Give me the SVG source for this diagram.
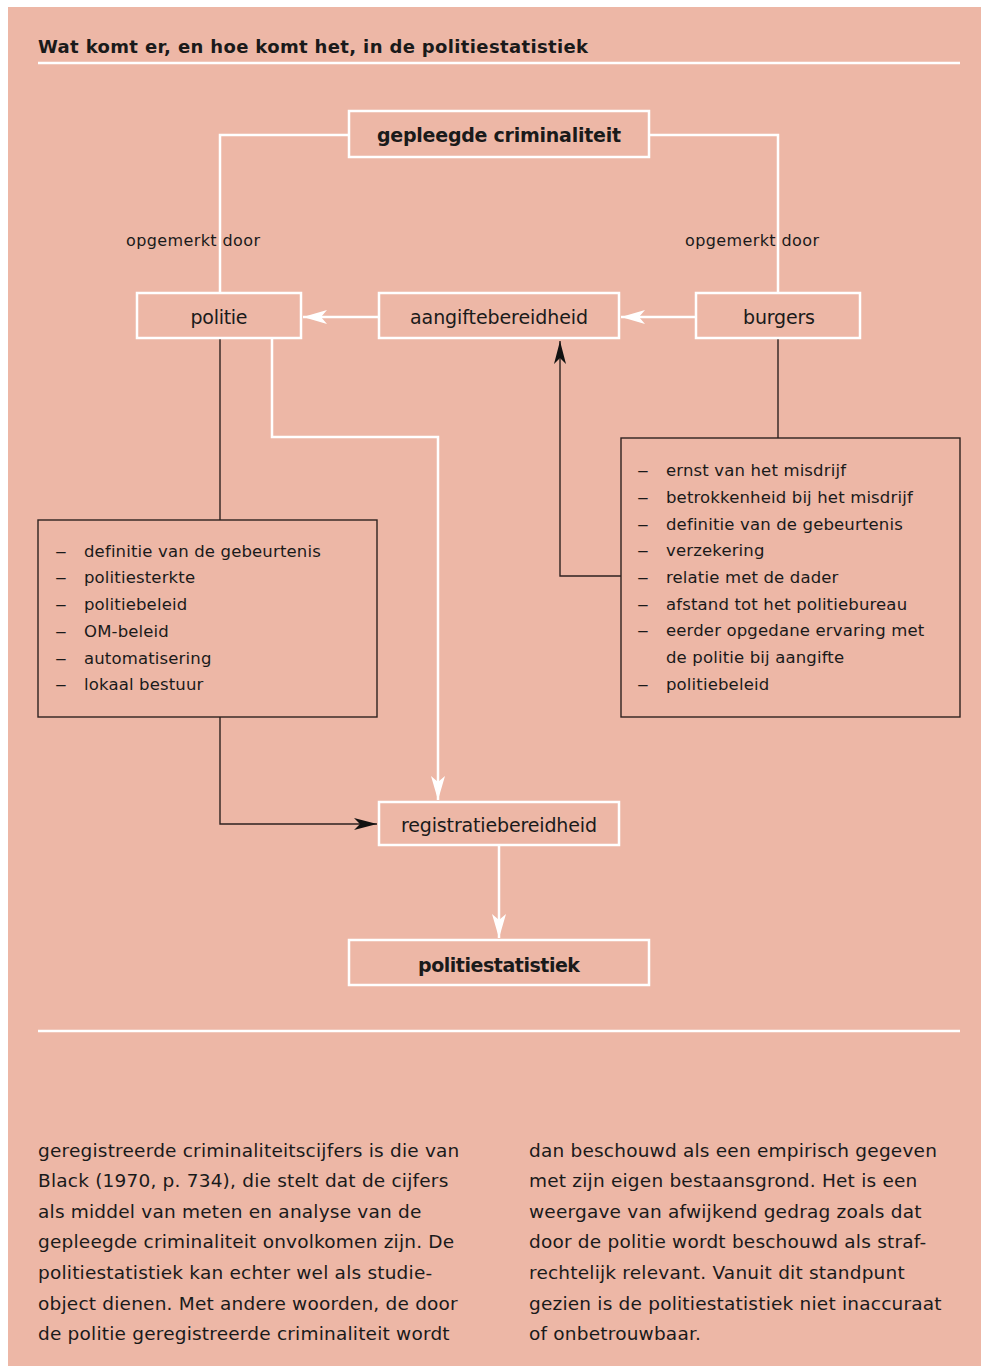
<svg xmlns="http://www.w3.org/2000/svg" width="981" height="1367" viewBox="0 0 981 1367">
<style>
.bg{fill:#EDB7A6}
.wbox{fill:none;stroke:#fff;stroke-width:2.5}
.dbox{fill:none;stroke:#2e2220;stroke-width:1.4}
.wl{fill:none;stroke:#fff;stroke-width:2.5}
.dl{fill:none;stroke:#2e2220;stroke-width:1.4}
text{font-family:"DejaVu Sans","Liberation Sans",Arial,sans-serif;fill:#1a1a1a}
.lbl{font-size:19px;text-anchor:middle}
.bold{font-weight:bold}
.li{font-size:16.5px;letter-spacing:0.15px}
.sm{font-size:16px}
.body{font-size:18.5px;letter-spacing:0.2px}
</style>
<defs>
<marker id="wa" markerUnits="userSpaceOnUse" markerWidth="26" markerHeight="16" refX="24" refY="7" orient="auto">
<path d="M0,0 L24,7 L0,14 L6,7 z" fill="#fff"/>
</marker>
<marker id="ba" markerUnits="userSpaceOnUse" markerWidth="26" markerHeight="16" refX="23" refY="6" orient="auto">
<path d="M0,0 L23,6 L0,12 L6,6 z" fill="#111"/>
</marker>
</defs>
<rect class="bg" x="8" y="7" width="973" height="1359"/>
<g id="title">
<text x="38" y="53" class="bold" style="font-size:18px" textLength="550">Wat komt er, en hoe komt het, in de politiestatistiek</text>
<line x1="38" y1="63" x2="960" y2="63" stroke="#fff" stroke-width="2.5"/>
</g>
<g id="connectors">
<polyline class="wl" points="349,135 220,135 220,293"/>
<polyline class="wl" points="649,135 778,135 778,293"/>
<line class="wl" x1="379" y1="317" x2="303" y2="317" marker-end="url(#wa)"/>
<line class="wl" x1="696" y1="317" x2="621" y2="317" marker-end="url(#wa)"/>
<polyline class="wl" points="272,338 272,437 438,437 438,800" marker-end="url(#wa)"/>
<line class="wl" x1="499" y1="845" x2="499" y2="938" marker-end="url(#wa)"/>
<line class="dl" x1="220" y1="339" x2="220" y2="520"/>
<polyline class="dl" points="220,717 220,824 377,824" marker-end="url(#ba)"/>
<line class="dl" x1="778" y1="339" x2="778" y2="438"/>
<polyline class="dl" points="621,576 560,576 560,341" marker-end="url(#ba)"/>
</g>
<g id="label-left"><text x="126" y="246" class="sm" textLength="134">opgemerkt door</text></g>
<g id="label-right"><text x="685" y="246" class="sm" textLength="134">opgemerkt door</text></g>
<g id="n-gepleegde">
<rect class="wbox" x="349" y="111" width="300" height="46"/>
<text x="499" y="142" class="lbl bold" textLength="244">gepleegde criminaliteit</text>
</g>
<g id="n-politie">
<rect class="wbox" x="137" y="293" width="164" height="45"/>
<text x="219" y="324" class="lbl" textLength="57">politie</text>
</g>
<g id="n-aangifte">
<rect class="wbox" x="379" y="293" width="240" height="45"/>
<text x="499" y="324" class="lbl" textLength="178">aangiftebereidheid</text>
</g>
<g id="n-burgers">
<rect class="wbox" x="696" y="293" width="164" height="45"/>
<text x="779" y="324" class="lbl" textLength="72">burgers</text>
</g>
<g id="n-registratie">
<rect class="wbox" x="379" y="802" width="240" height="43"/>
<text x="499" y="832" class="lbl" textLength="196">registratiebereidheid</text>
</g>
<g id="n-statistiek">
<rect class="wbox" x="349" y="940" width="300" height="45"/>
<text x="499" y="972" class="lbl bold" textLength="162">politiestatistiek</text>
</g>
<g id="n-leftlist">
<rect class="dbox" x="38" y="520" width="339" height="197"/>
<g class="li">
<text x="55" y="557" class="li" textLength="12" lengthAdjust="spacingAndGlyphs">–</text>
<text x="55" y="583" class="li" textLength="12" lengthAdjust="spacingAndGlyphs">–</text>
<text x="55" y="610" class="li" textLength="12" lengthAdjust="spacingAndGlyphs">–</text>
<text x="55" y="637" class="li" textLength="12" lengthAdjust="spacingAndGlyphs">–</text>
<text x="55" y="664" class="li" textLength="12" lengthAdjust="spacingAndGlyphs">–</text>
<text x="55" y="690" class="li" textLength="12" lengthAdjust="spacingAndGlyphs">–</text>
</g>
<text class="li"><tspan x="84" y="557">definitie van de gebeurtenis</tspan>
<tspan x="84" y="583">politiesterkte</tspan>
<tspan x="84" y="610">politiebeleid</tspan>
<tspan x="84" y="637">OM-beleid</tspan>
<tspan x="84" y="664">automatisering</tspan>
<tspan x="84" y="690">lokaal bestuur</tspan></text>
</g>
<g id="n-rightlist">
<rect class="dbox" x="621" y="438" width="339" height="279"/>
<text x="637" y="476" class="li" textLength="12" lengthAdjust="spacingAndGlyphs">–</text>
<text x="637" y="503" class="li" textLength="12" lengthAdjust="spacingAndGlyphs">–</text>
<text x="637" y="530" class="li" textLength="12" lengthAdjust="spacingAndGlyphs">–</text>
<text x="637" y="556" class="li" textLength="12" lengthAdjust="spacingAndGlyphs">–</text>
<text x="637" y="583" class="li" textLength="12" lengthAdjust="spacingAndGlyphs">–</text>
<text x="637" y="610" class="li" textLength="12" lengthAdjust="spacingAndGlyphs">–</text>
<text x="637" y="636" class="li" textLength="12" lengthAdjust="spacingAndGlyphs">–</text>
<text x="637" y="690" class="li" textLength="12" lengthAdjust="spacingAndGlyphs">–</text>
<text class="li"><tspan x="666" y="476">ernst van het misdrijf</tspan>
<tspan x="666" y="503">betrokkenheid bij het misdrijf</tspan>
<tspan x="666" y="530">definitie van de gebeurtenis</tspan>
<tspan x="666" y="556">verzekering</tspan>
<tspan x="666" y="583">relatie met de dader</tspan>
<tspan x="666" y="610">afstand tot het politiebureau</tspan>
<tspan x="666" y="636">eerder opgedane ervaring met</tspan>
<tspan x="666" y="663">de politie bij aangifte</tspan>
<tspan x="666" y="690">politiebeleid</tspan></text>
</g>
<line x1="38" y1="1031" x2="960" y2="1031" stroke="#fff" stroke-width="2.5"/>
<g id="bodytext">
<text class="body"><tspan x="38" y="1157">geregistreerde criminaliteitscijfers is die van</tspan>
<tspan x="38" y="1187">Black (1970, p. 734), die stelt dat de cijfers</tspan>
<tspan x="38" y="1218">als middel van meten en analyse van de</tspan>
<tspan x="38" y="1248">gepleegde criminaliteit onvolkomen zijn. De</tspan>
<tspan x="38" y="1279">politiestatistiek kan echter wel als studie-</tspan>
<tspan x="38" y="1310">object dienen. Met andere woorden, de door</tspan>
<tspan x="38" y="1340">de politie geregistreerde criminaliteit wordt</tspan></text>
<text class="body"><tspan x="529" y="1157">dan beschouwd als een empirisch gegeven</tspan>
<tspan x="529" y="1187">met zijn eigen bestaansgrond. Het is een</tspan>
<tspan x="529" y="1218">weergave van afwijkend gedrag zoals dat</tspan>
<tspan x="529" y="1248">door de politie wordt beschouwd als straf-</tspan>
<tspan x="529" y="1279">rechtelijk relevant. Vanuit dit standpunt</tspan>
<tspan x="529" y="1310">gezien is de politiestatistiek niet inaccuraat</tspan>
<tspan x="529" y="1340">of onbetrouwbaar.</tspan></text>
</g>
</svg>
